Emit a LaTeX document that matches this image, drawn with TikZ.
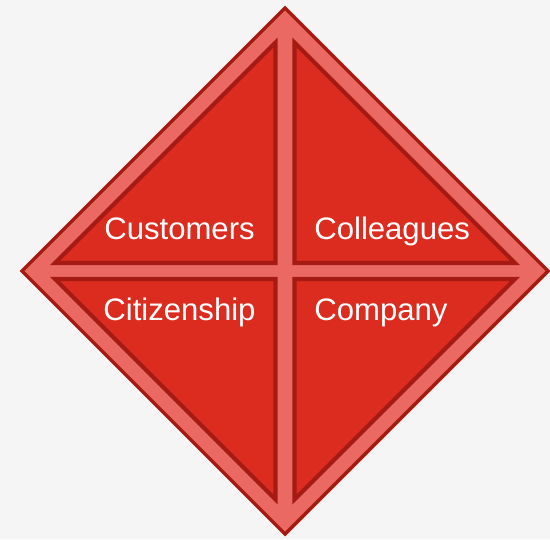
\documentclass[tikz,border=0pt]{standalone}
\usepackage{fontspec}
\setmainfont{Liberation Sans}
\usetikzlibrary{positioning, backgrounds}
\definecolor{paper}{HTML}{F5F5F5}
\definecolor{bandred}{HTML}{EA6A63}
\definecolor{fillred}{HTML}{DC2B1F}
\definecolor{edgered}{HTML}{A51B14}

\begin{document}
\begin{tikzpicture}[
            x=0.02cm, y=0.02cm,
            band/.style={fill=bandred, draw=edgered, line width=2pt, line join=miter},
            quarter/.style={fill=fillred, draw=edgered, line width=2.3pt, line join=miter},
            word/.style={text=white, inner sep=0pt, font=\fontsize{17.7}{20}\selectfont}
        ]
        \def\R{263}
        \def\s{238}
        \def\gx{9.5}
        \def\gy{8}
        \fill[paper] (0,0) rectangle (550,539);
        \useasboundingbox (0,0) rectangle (550,539);

        \begin{scope}[shift={(285,268)}]
            \draw[band] (0,\R) -- (\R,0) -- (0,-\R) -- (-\R,0) -- cycle;
            % one right triangle per quadrant
            \foreach \sx/\sy in {-1/1, 1/1, -1/-1, 1/-1} {
                \draw[quarter] (\sx*\gx, \sy*\gy) -- ({\sx*\gx}, {\sy*(\s-\gx)})
                    -- ({\sx*(\s-\gy)}, {\sy*\gy}) -- cycle;
            }
        \end{scope}

        \node[word, anchor=base] (customers) at (179.5, 300) {Customers};
        \node[word, anchor=base west] (colleagues) at (314, 300) {Colleagues};
        \node[word, anchor=base] (citizenship) at (179.5, 219) {Citizenship};
        \node[word, anchor=base west] (company) at (314, 219) {Company};
    \end{tikzpicture}
\end{document}
